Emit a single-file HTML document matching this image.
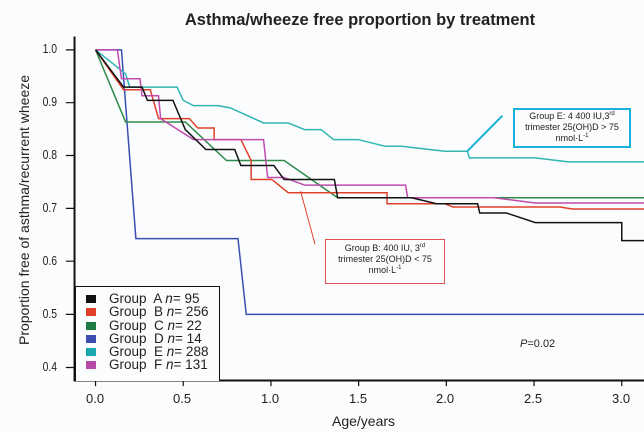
<!DOCTYPE html>
<html><head><meta charset="utf-8"><style>
body{margin:0;background:#fbfcfd;}
#c{position:relative;width:644px;height:432px;overflow:hidden;background:#fbfcfd;font-family:"Liberation Sans",sans-serif;color:#222;}
.t{position:absolute;white-space:nowrap;}
svg{position:absolute;left:0;top:0;}
.yl{font-size:13px;transform:scaleX(0.8);transform-origin:right center;}
.xl{font-size:13px;}
.lg{font-size:13.5px;line-height:13.3px;}
.lg div{height:13.3px;}
.ann{font-size:9px;text-align:center;line-height:11px;}
sup{font-size:6px;line-height:0;}
</style></head><body><div id="c">
<svg width="644" height="432" viewBox="0 0 1564 1300" preserveAspectRatio="none">
<g fill="none">
<path vector-effect="non-scaling-stroke" d="M181,110V1145H1564" stroke="#111" stroke-width="2"/>
<g stroke="#111" stroke-width="1.2">
<path vector-effect="non-scaling-stroke" d="M160,150H181M160,309H181M160,468H181M160,627H181M160,786H181M160,946H181M160,1106H181"/>
<path vector-effect="non-scaling-stroke" d="M232,1145V1162M445,1145V1162M658,1145V1162M871,1145V1162M1084,1145V1162M1297,1145V1162M1510,1145V1162"/>
</g>
<path vector-effect="non-scaling-stroke" stroke="#3a4fb0" stroke-width="1.5" d="M232,150H295L330,718H578L598,946H1564"/>
<path vector-effect="non-scaling-stroke" stroke="#2fb5b5" stroke-width="1.5" d="M232,150L305,222L315,262H430L445,302L470,318H530L560,325L640,370H700L740,390H780L810,420H870L935,440H975L1080,455H1135L1140,475H1300L1380,487H1564"/>
<path vector-effect="non-scaling-stroke" stroke="#2e8b4a" stroke-width="1.5" d="M232,150L305,367H450L550,483H690L820,595H1564"/>
<path vector-effect="non-scaling-stroke" stroke="#e0402a" stroke-width="1.5" d="M232,150L300,270H365L385,357H460L480,385H520V420H585L610,483V540H660L700,580H940V613H1080L1100,623H1360L1390,629H1564"/>
<path vector-effect="non-scaling-stroke" stroke="#c04cb0" stroke-width="1.5" d="M232,150H285L295,237H340L345,288H385L390,357L470,420H640L650,534H690L740,557H985L990,595H1200L1300,611H1564"/>
<path vector-effect="non-scaling-stroke" stroke="#111" stroke-width="1.5" d="M232,150L300,262H345L358,302H420L450,390L500,450H570L585,498H665L690,540H812L820,595H1000L1060,613H1160L1165,641H1230L1300,670H1510V724H1564"/>
<path vector-effect="non-scaling-stroke" stroke="#1cb0d8" stroke-width="2" d="M1220,348L1135,455"/>
<path vector-effect="non-scaling-stroke" stroke="#e0402a" stroke-width="1" d="M730,575L765,735"/>
</g></svg>
<div class="t" style="left:0;top:11px;width:720px;text-align:center;font-weight:bold;font-size:16.5px;">Asthma/wheeze free proportion by treatment</div>
<div class="t yl" style="right:587px;top:41px">1.0</div>
<div class="t yl" style="right:587px;top:94px">0.9</div>
<div class="t yl" style="right:587px;top:147px">0.8</div>
<div class="t yl" style="right:587px;top:200px">0.7</div>
<div class="t yl" style="right:587px;top:253px">0.6</div>
<div class="t yl" style="right:587px;top:306px">0.5</div>
<div class="t yl" style="right:587px;top:359px">0.4</div>
<div class="t xl" style="left:86px;top:391px">0.0</div>
<div class="t xl" style="left:173px;top:391px">0.5</div>
<div class="t xl" style="left:261px;top:391px">1.0</div>
<div class="t xl" style="left:349px;top:391px">1.5</div>
<div class="t xl" style="left:436px;top:391px">2.0</div>
<div class="t xl" style="left:524px;top:391px">2.5</div>
<div class="t xl" style="left:612px;top:391px">3.0</div>
<div class="t" style="left:332px;top:413px;font-size:14px;">Age/years</div>
<div class="t" style="left:24px;top:210px;font-size:14px;transform:translate(-50%,-50%) rotate(-90deg);">Proportion free of asthma/recurrent wheeze</div>
<div class="t" style="left:75px;top:286px;width:143px;height:94px;border:1.5px solid #111;border-bottom:none;background:#fbfcfd;"></div>
<div class="t lg" style="left:86px;top:292px">
<div><span style="display:inline-block;width:10px;height:8px;background:#111;margin-right:13px"></span>Group&nbsp; A <i>n</i>= 95</div>
<div><span style="display:inline-block;width:10px;height:8px;background:#e0402a;margin-right:13px"></span>Group&nbsp; B <i>n</i>= 256</div>
<div><span style="display:inline-block;width:10px;height:8px;background:#1e7a45;margin-right:13px"></span>Group&nbsp; C <i>n</i>= 22</div>
<div><span style="display:inline-block;width:10px;height:8px;background:#3a4fb0;margin-right:13px"></span>Group&nbsp; D <i>n</i>= 14</div>
<div><span style="display:inline-block;width:10px;height:8px;background:#1aa8b0;margin-right:13px"></span>Group&nbsp; E <i>n</i>= 288</div>
<div><span style="display:inline-block;width:10px;height:8px;background:#b84aa8;margin-right:13px"></span>Group&nbsp; F <i>n</i>= 131</div>
</div>
<div class="t ann" style="left:513px;top:108px;width:114px;height:35px;border:2px solid #1cb0d8;padding-top:1px;">Group E: 4 400 IU,3<sup>rd</sup><br>trimester 25(OH)D &gt; 75<br>nmol·L<sup>-1</sup></div>
<div class="t ann" style="left:325px;top:239px;width:118px;height:40px;border:1px solid #e05050;padding-top:3px;">Group B: 400 IU, 3<sup>rd</sup><br>trimester 25(OH)D &lt; 75<br>nmol·L<sup>-1</sup></div>
<div class="t" style="left:520px;top:338px;font-size:11px;"><i>P</i>=0.02</div>
</div></body></html>
